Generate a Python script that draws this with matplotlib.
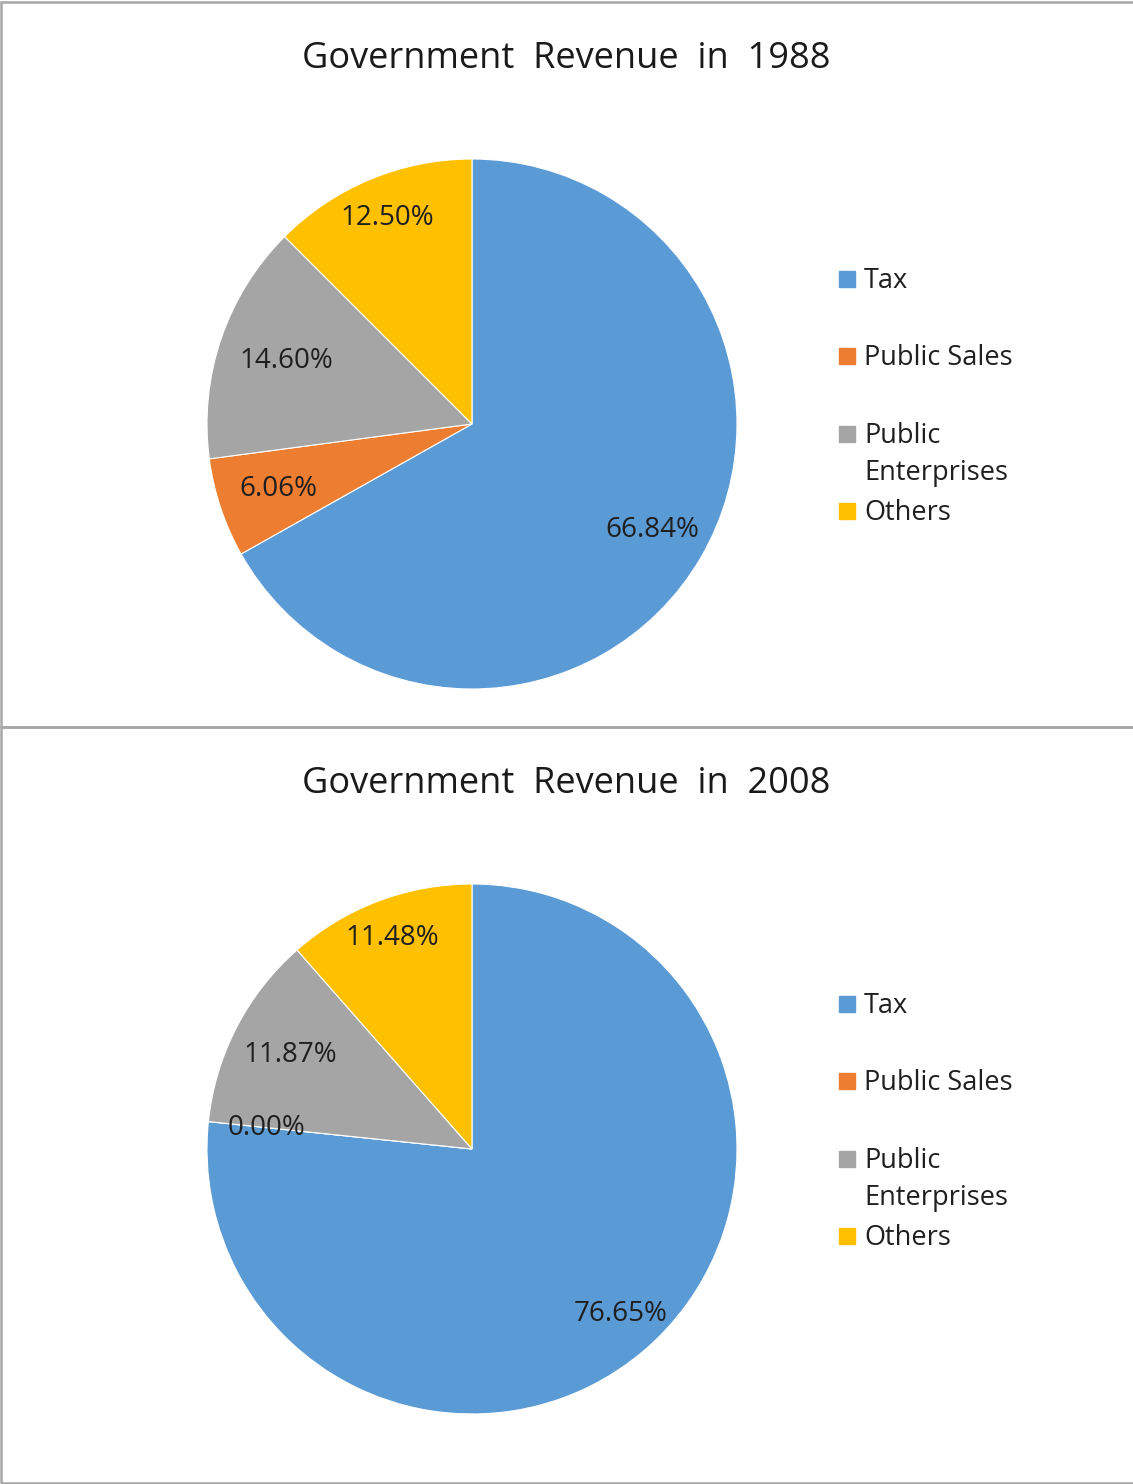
import matplotlib
matplotlib.use("Agg")
import matplotlib.pyplot as plt
from matplotlib.patches import Rectangle

categories = ["Tax", "Public Sales", "Public\nEnterprises", "Others"]
share_1988 = [66.84, 6.06, 14.60, 12.50]
share_2008 = [76.65, 0.00, 11.87, 11.48]
years = ["1988", "2008"]

colors = ["#5B9BD5", "#ED7D31", "#A5A5A5", "#FFC000"]
# where each percentage sits along the radius (Excel "best fit" look)
lbl_dist_1988 = [0.79, 0.77, 0.74, 0.84]
lbl_dist_2008 = [0.84, 0.78, 0.77, 0.85]

W, H = 1133, 1484
plt.rcParams['font.family'] = ['Open Sans', 'DejaVu Sans']
fig = plt.figure(figsize=(W / 100, H / 100), dpi=100)


def fx(x):
    return x / W


def fy(y):
    return 1 - y / H


def panel(values, dists, year, top, bottom):
    off = top - 2
    # frame of the chart area
    fig.patches.append(Rectangle((fx(1), fy(bottom)), fx(1140), (bottom - top) / H,
                                 transform=fig.transFigure, fill=False,
                                 edgecolor="#A6A6A6", linewidth=1.8))
    fig.text(0.5, fy(off + 68), "Government  Revenue  in  " + year, ha="center",
             va="baseline", fontsize=26, color="#1a1a1a")

    r = 265
    cx, cy = 472, 424 + off
    ax = fig.add_axes([fx(cx - r), fy(cy + r), 2 * r / W, 2 * r / H])
    wedges, texts, autos = ax.pie(values, colors=colors, startangle=90, counterclock=False,
                                  autopct="%.2f%%", pctdistance=0.8,
                                  wedgeprops=dict(edgecolor="white", linewidth=0.8),
                                  textprops=dict(fontsize=20, color="#1f1f1f"))
    for t, d in zip(autos, dists):
        x, y = t.get_position()
        k = d / 0.8
        t.set_position((x * k, y * k))
    ax.set_xlim(-1, 1)
    ax.set_ylim(-1, 1)

    # legend, Excel style: entries evenly spaced, long label wraps
    for i, (name, c) in enumerate(zip(categories, colors)):
        base = 288 + off + i * 77.3
        fig.patches.append(Rectangle((fx(839), fy(base - 1)), 16 / W, 16 / H,
                                     transform=fig.transFigure, color=c))
        fig.text(fx(864), fy(base - 21), name, ha="left", va="top", fontsize=19.5,
                 color="#1f1f1f", linespacing=1.45)


panel(share_1988, lbl_dist_1988, years[0], 2, 727)
panel(share_2008, lbl_dist_2008, years[1], 727, 1483)

fig.savefig("out.png", dpi=100, facecolor="white")
